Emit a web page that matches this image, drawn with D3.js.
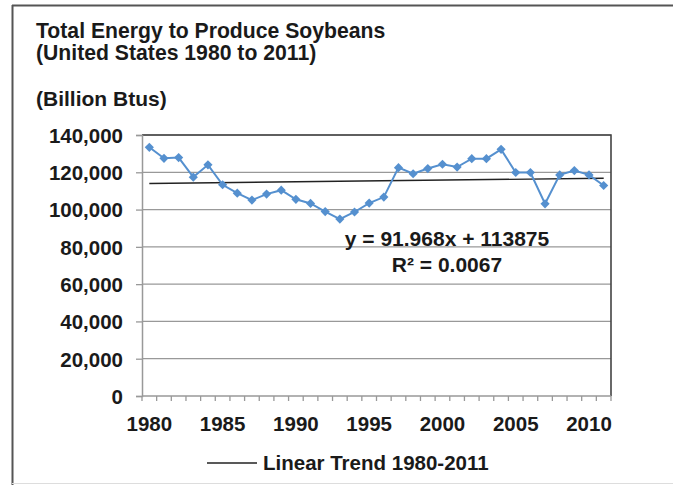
<!DOCTYPE html>
<html>
<head>
<meta charset="utf-8">
<script src="https://cdn.jsdelivr.net/npm/d3@7"></script>
<style>
  body { margin: 0; background: #fff; }
  text { font-family: "Liberation Sans", Arial, sans-serif; font-weight: bold; fill: #1a1a1a; }
</style>
</head>
<body>
<div id="chart"></div>
<script>
// data
const years = d3.range(1980, 2012);
const energy = [133400, 127500, 127900, 117400, 124000, 113300, 108800, 105100, 108300, 110400,
                105500, 103300, 98900, 94900, 98700, 103500, 106700, 122500, 119200, 122000,
                124300, 122800, 127300, 127300, 132300, 119900, 119900, 103100, 118600, 120900,
                118600, 112900];
const yTicks = [0, 20000, 40000, 60000, 80000, 100000, 120000, 140000];
const xLabelYears = [1980, 1985, 1990, 1995, 2000, 2005, 2010];
const trendSlope = 91.968, trendIntercept = 113875;
const titleLines = ["Total Energy to Produce Soybeans", "(United States 1980 to 2011)"];
const unitLabel = "(Billion Btus)";
const eqLines = ["y = 91.968x + 113875", "R\u00b2 = 0.0067"];
const legendLabel = "Linear Trend 1980-2011";

const W = 673, H = 485;
const plot = { left: 142, right: 611, top: 135, bottom: 396 };

const svg = d3.select("#chart").append("svg")
  .attr("width", W).attr("height", H);

// outer frame
svg.append("line").attr("x1", 12).attr("x2", W).attr("y1", 5.5).attr("y2", 5.5)
  .attr("stroke", "#555").attr("stroke-width", 2);
svg.append("line").attr("x1", 12.5).attr("x2", 12.5).attr("y1", 5).attr("y2", H)
  .attr("stroke", "#555").attr("stroke-width", 2);
svg.append("line").attr("x1", 12).attr("x2", W).attr("y1", 483.5).attr("y2", 483.5)
  .attr("stroke", "#ddd").attr("stroke-width", 1);

// titles
svg.selectAll(".title").data(titleLines).enter().append("text")
  .attr("x", 36).attr("y", (d, i) => 38 + i * 22)
  .style("font-size", "21.2px").text(d => d);
svg.append("text").attr("x", 36).attr("y", 106)
  .style("font-size", "21px").text(unitLabel);

const x = d3.scaleBand().domain(years).range([plot.left, plot.right]);
const y = d3.scaleLinear().domain([0, 140000]).range([plot.bottom, plot.top]);
const cx = d => x(d) + x.bandwidth() / 2;

// gridlines
svg.append("g").selectAll("line").data(yTicks.slice(1)).enter().append("line")
  .attr("x1", plot.left).attr("x2", plot.right)
  .attr("y1", d => y(d)).attr("y2", d => y(d))
  .attr("stroke", "#999").attr("stroke-width", 1.3);

// plot border top / right
svg.append("path")
  .attr("d", `M${plot.left},${plot.top}H${plot.right}V${plot.bottom}`)
  .attr("fill", "none").attr("stroke", "#444").attr("stroke-width", 1.6);

// y axis
const yAxis = svg.append("g").attr("transform", `translate(${plot.left},0)`)
  .call(d3.axisLeft(y).tickValues(yTicks).tickFormat(d3.format(",")).tickSize(6).tickPadding(13));
yAxis.select(".domain").attr("stroke", "#999").attr("stroke-width", 1.5);
yAxis.selectAll(".tick line").attr("stroke", "#999").attr("stroke-width", 1.3);
yAxis.selectAll("text").style("font-size", "20.5px").attr("fill", "#1a1a1a").attr("dy", "0.36em");

// x axis: ticks on category boundaries
const xAxis = svg.append("g").attr("transform", `translate(0,${plot.bottom})`);
xAxis.append("line").attr("x1", plot.left).attr("x2", plot.right)
  .attr("stroke", "#999").attr("stroke-width", 1.5);
xAxis.selectAll(".xt").data(years.concat([2012])).enter().append("line")
  .attr("x1", d => d === 2012 ? plot.right : x(d))
  .attr("x2", d => d === 2012 ? plot.right : x(d))
  .attr("y1", 0).attr("y2", 5)
  .attr("stroke", "#999").attr("stroke-width", 1.3);
xAxis.selectAll(".xl").data(xLabelYears).enter().append("text")
  .attr("x", d => cx(d)).attr("y", 35)
  .attr("text-anchor", "middle").style("font-size", "20.5px").text(d => d);

// trend line
const trend = d => trendIntercept + trendSlope * (years.indexOf(d) + 1);
svg.append("line")
  .attr("x1", cx(years[0])).attr("y1", y(trend(years[0])))
  .attr("x2", cx(years[years.length - 1])).attr("y2", y(trend(years[years.length - 1])))
  .attr("stroke", "#222").attr("stroke-width", 1.4);

// data series
const blue = "#5590cf";
svg.append("path").datum(years)
  .attr("d", d3.line().x(d => cx(d)).y((d, i) => y(energy[i])))
  .attr("fill", "none").attr("stroke", blue).attr("stroke-width", 2);
svg.append("g").selectAll("path").data(years).enter().append("path")
  .attr("d", d3.symbol(d3.symbolSquare, 42))
  .attr("transform", (d, i) => `translate(${cx(d)},${y(energy[i])}) rotate(45)`)
  .attr("fill", blue);

// equation
svg.selectAll(".eq").data(eqLines).enter().append("text")
  .attr("x", 447).attr("y", (d, i) => 246 + i * 26)
  .attr("text-anchor", "middle").style("font-size", "21px").text(d => d);

// legend
svg.append("line").attr("x1", 207).attr("x2", 257).attr("y1", 463).attr("y2", 463)
  .attr("stroke", "#222").attr("stroke-width", 1.4);
svg.append("text").attr("x", 263).attr("y", 470)
  .style("font-size", "20.5px").text(legendLabel);
</script>
</body>
</html>
